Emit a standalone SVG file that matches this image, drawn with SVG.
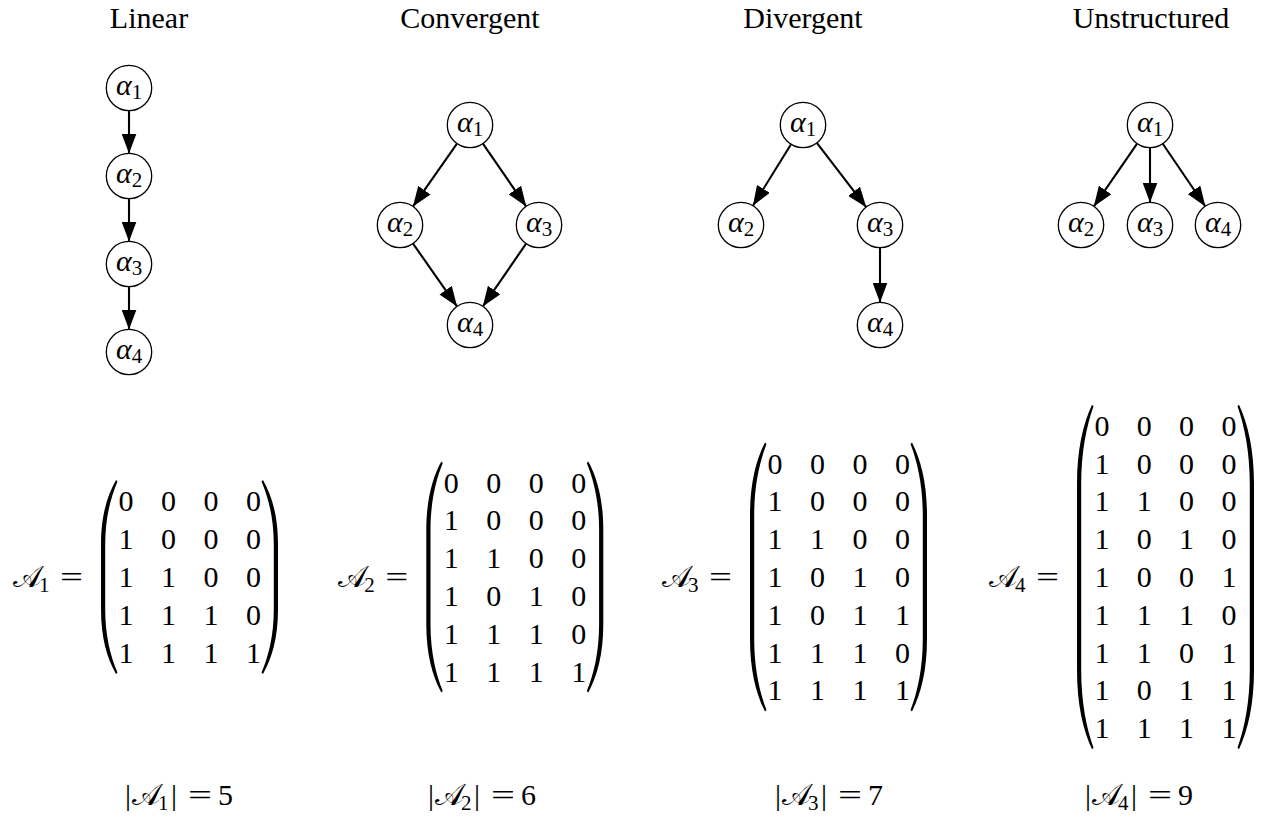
<svg xmlns="http://www.w3.org/2000/svg" width="1264" height="816" viewBox="0 0 1264 816">
<style>
.t{font-family:"Liberation Serif","DejaVu Serif",serif;font-size:30px;fill:#000}
.cal{font-family:"Liberation Serif","DejaVu Serif","DejaVu Sans","Noto Sans",serif;font-style:normal}
.sub{font-size:21px}
.node circle{fill:#fff;stroke:#000;stroke-width:1.3}
.edge line{stroke:#000;stroke-width:2.1;marker-end:url(#ah)}
.m text{text-anchor:middle}
.m text.lab{text-anchor:start}
.sz text{text-anchor:start}
.par{fill:#000}
</style>
<defs>
<marker id="ah" markerUnits="userSpaceOnUse" markerWidth="20" markerHeight="15" refX="19.5" refY="7.5" orient="auto" viewBox="0 0 20 15">
<path d="M0,0 L20,7.5 L0,15 Z" fill="#000"/>
</marker>
</defs>
<rect width="1264" height="816" fill="#fff"/>

<g id="titles" class="t" text-anchor="middle">
<text x="149" y="28">Linear</text>
<text x="470" y="28">Convergent</text>
<text x="803" y="28">Divergent</text>
<text x="1151" y="28">Unstructured</text>
</g>

<g id="connectors" class="edge">
<line x1="129" y1="111" x2="129" y2="153"/>
<line x1="129" y1="199" x2="129" y2="241"/>
<line x1="129" y1="287" x2="129" y2="329"/>
<line x1="456.81" y1="143.84" x2="413.19" y2="206.16"/>
<line x1="483.06" y1="143.93" x2="525.94" y2="206.07"/>
<line x1="413.19" y1="243.84" x2="456.81" y2="306.16"/>
<line x1="525.94" y1="243.93" x2="483.06" y2="306.07"/>
<line x1="790.88" y1="144.55" x2="753.12" y2="205.45"/>
<line x1="817.03" y1="143.22" x2="865.97" y2="206.78"/>
<line x1="880" y1="248" x2="880" y2="302"/>
<line x1="1136.94" y1="143.93" x2="1094.06" y2="206.07"/>
<line x1="1150" y1="148" x2="1150" y2="202"/>
<line x1="1162.93" y1="144.02" x2="1205.07" y2="205.98"/>
</g>

<g id="lin1" class="node"><circle cx="129" cy="88" r="22.7"/><text class="t" x="129" y="95" text-anchor="middle"><tspan font-style="italic">α</tspan><tspan class="sub" dy="4">1</tspan></text></g>
<g id="lin2" class="node"><circle cx="129" cy="176" r="22.7"/><text class="t" x="129" y="183" text-anchor="middle"><tspan font-style="italic">α</tspan><tspan class="sub" dy="4">2</tspan></text></g>
<g id="lin3" class="node"><circle cx="129" cy="264" r="22.7"/><text class="t" x="129" y="271" text-anchor="middle"><tspan font-style="italic">α</tspan><tspan class="sub" dy="4">3</tspan></text></g>
<g id="lin4" class="node"><circle cx="129" cy="352" r="22.7"/><text class="t" x="129" y="359" text-anchor="middle"><tspan font-style="italic">α</tspan><tspan class="sub" dy="4">4</tspan></text></g>

<g id="con1" class="node"><circle cx="470" cy="125" r="22.7"/><text class="t" x="470" y="132" text-anchor="middle"><tspan font-style="italic">α</tspan><tspan class="sub" dy="4">1</tspan></text></g>
<g id="con2" class="node"><circle cx="400" cy="225" r="22.7"/><text class="t" x="400" y="232" text-anchor="middle"><tspan font-style="italic">α</tspan><tspan class="sub" dy="4">2</tspan></text></g>
<g id="con3" class="node"><circle cx="539" cy="225" r="22.7"/><text class="t" x="539" y="232" text-anchor="middle"><tspan font-style="italic">α</tspan><tspan class="sub" dy="4">3</tspan></text></g>
<g id="con4" class="node"><circle cx="470" cy="325" r="22.7"/><text class="t" x="470" y="332" text-anchor="middle"><tspan font-style="italic">α</tspan><tspan class="sub" dy="4">4</tspan></text></g>

<g id="div1" class="node"><circle cx="803" cy="125" r="22.7"/><text class="t" x="803" y="132" text-anchor="middle"><tspan font-style="italic">α</tspan><tspan class="sub" dy="4">1</tspan></text></g>
<g id="div2" class="node"><circle cx="741" cy="225" r="22.7"/><text class="t" x="741" y="232" text-anchor="middle"><tspan font-style="italic">α</tspan><tspan class="sub" dy="4">2</tspan></text></g>
<g id="div3" class="node"><circle cx="880" cy="225" r="22.7"/><text class="t" x="880" y="232" text-anchor="middle"><tspan font-style="italic">α</tspan><tspan class="sub" dy="4">3</tspan></text></g>
<g id="div4" class="node"><circle cx="880" cy="325" r="22.7"/><text class="t" x="880" y="332" text-anchor="middle"><tspan font-style="italic">α</tspan><tspan class="sub" dy="4">4</tspan></text></g>

<g id="uns1" class="node"><circle cx="1150" cy="125" r="22.7"/><text class="t" x="1150" y="132" text-anchor="middle"><tspan font-style="italic">α</tspan><tspan class="sub" dy="4">1</tspan></text></g>
<g id="uns2" class="node"><circle cx="1081" cy="225" r="22.7"/><text class="t" x="1081" y="232" text-anchor="middle"><tspan font-style="italic">α</tspan><tspan class="sub" dy="4">2</tspan></text></g>
<g id="uns3" class="node"><circle cx="1150" cy="225" r="22.7"/><text class="t" x="1150" y="232" text-anchor="middle"><tspan font-style="italic">α</tspan><tspan class="sub" dy="4">3</tspan></text></g>
<g id="uns4" class="node"><circle cx="1218" cy="225" r="22.7"/><text class="t" x="1218" y="232" text-anchor="middle"><tspan font-style="italic">α</tspan><tspan class="sub" dy="4">4</tspan></text></g>

<!-- Matrix 1 -->
<g id="matrix1" class="t m">
<text class="lab" x="13" y="587"><tspan class="cal">𝒜</tspan><tspan class="sub" x="39" dy="5">1</tspan></text>
<text x="71.5" y="587" textLength="23" lengthAdjust="spacingAndGlyphs">=</text>
<path id="lp1" class="par" d="M116,480 C107,496 101,516 101,545 L101,609 C101,638 107,658 116,674 L117.5,672.5 C110.5,656 105.2,636 105.2,609 L105.2,545 C105.2,518 110.5,498 117.5,481.5 Z"/>
<use href="#lp1" transform="translate(379,0) scale(-1,1)"/>
<text x="126" y="511.4">0</text><text x="168.5" y="511.4">0</text><text x="211" y="511.4">0</text><text x="253.5" y="511.4">0</text>
<text x="126" y="549.2">1</text><text x="168.5" y="549.2">0</text><text x="211" y="549.2">0</text><text x="253.5" y="549.2">0</text>
<text x="126" y="587">1</text><text x="168.5" y="587">1</text><text x="211" y="587">0</text><text x="253.5" y="587">0</text>
<text x="126" y="624.8">1</text><text x="168.5" y="624.8">1</text><text x="211" y="624.8">1</text><text x="253.5" y="624.8">0</text>
<text x="126" y="662.6">1</text><text x="168.5" y="662.6">1</text><text x="211" y="662.6">1</text><text x="253.5" y="662.6">1</text>
</g>

<!-- Matrix 2 -->
<g id="matrix2" class="t m">
<text class="lab" x="338.3" y="587"><tspan class="cal">𝒜</tspan><tspan class="sub" x="364.3" dy="5">2</tspan></text>
<text x="396.8" y="587" textLength="23" lengthAdjust="spacingAndGlyphs">=</text>
<path id="lp2" class="par" d="M441.3,461.5 C432.3,478 426.3,500 426.3,530 L426.3,624 C426.3,654 432.3,676 441.3,692.5 L442.8,691 C435.8,674 430.5,652 430.5,624 L430.5,530 C430.5,502 435.8,480 442.8,463 Z"/>
<use href="#lp2" transform="translate(1029.6,0) scale(-1,1)"/>
<text x="451.3" y="492.5">0</text><text x="493.8" y="492.5">0</text><text x="536.3" y="492.5">0</text><text x="578.8" y="492.5">0</text>
<text x="451.3" y="530.3">1</text><text x="493.8" y="530.3">0</text><text x="536.3" y="530.3">0</text><text x="578.8" y="530.3">0</text>
<text x="451.3" y="568.1">1</text><text x="493.8" y="568.1">1</text><text x="536.3" y="568.1">0</text><text x="578.8" y="568.1">0</text>
<text x="451.3" y="605.9">1</text><text x="493.8" y="605.9">0</text><text x="536.3" y="605.9">1</text><text x="578.8" y="605.9">0</text>
<text x="451.3" y="643.7">1</text><text x="493.8" y="643.7">1</text><text x="536.3" y="643.7">1</text><text x="578.8" y="643.7">0</text>
<text x="451.3" y="681.5">1</text><text x="493.8" y="681.5">1</text><text x="536.3" y="681.5">1</text><text x="578.8" y="681.5">1</text>
</g>

<!-- Matrix 3 -->
<g id="matrix3" class="t m">
<text class="lab" x="662" y="587"><tspan class="cal">𝒜</tspan><tspan class="sub" x="688" dy="5">3</tspan></text>
<text x="720.5" y="587" textLength="23" lengthAdjust="spacingAndGlyphs">=</text>
<path id="lp3" class="par" d="M765,442.6 C756,460 750,484 750,515 L750,639 C750,670 756,694 765,711.4 L766.5,710 C759.5,692 754.2,668 754.2,639 L754.2,515 C754.2,486 759.5,462 766.5,444 Z"/>
<use href="#lp3" transform="translate(1677,0) scale(-1,1)"/>
<text x="775" y="473.6">0</text><text x="817.5" y="473.6">0</text><text x="860" y="473.6">0</text><text x="902.5" y="473.6">0</text>
<text x="775" y="511.4">1</text><text x="817.5" y="511.4">0</text><text x="860" y="511.4">0</text><text x="902.5" y="511.4">0</text>
<text x="775" y="549.2">1</text><text x="817.5" y="549.2">1</text><text x="860" y="549.2">0</text><text x="902.5" y="549.2">0</text>
<text x="775" y="587">1</text><text x="817.5" y="587">0</text><text x="860" y="587">1</text><text x="902.5" y="587">0</text>
<text x="775" y="624.8">1</text><text x="817.5" y="624.8">0</text><text x="860" y="624.8">1</text><text x="902.5" y="624.8">1</text>
<text x="775" y="662.6">1</text><text x="817.5" y="662.6">1</text><text x="860" y="662.6">1</text><text x="902.5" y="662.6">0</text>
<text x="775" y="700.4">1</text><text x="817.5" y="700.4">1</text><text x="860" y="700.4">1</text><text x="902.5" y="700.4">1</text>
</g>

<!-- Matrix 4 -->
<g id="matrix4" class="t m">
<text class="lab" x="989" y="587"><tspan class="cal">𝒜</tspan><tspan class="sub" x="1015" dy="5">4</tspan></text>
<text x="1047.5" y="587" textLength="23" lengthAdjust="spacingAndGlyphs">=</text>
<path id="lp4" class="par" d="M1092,404.8 C1083,424 1077,450 1077,484 L1077,670 C1077,704 1083,730 1092,749.2 L1093.5,747.8 C1086.5,728 1081.2,702 1081.2,670 L1081.2,484 C1081.2,452 1086.5,426 1093.5,406.2 Z"/>
<use href="#lp4" transform="translate(2331,0) scale(-1,1)"/>
<text x="1102" y="435.8">0</text><text x="1144.3" y="435.8">0</text><text x="1186.6" y="435.8">0</text><text x="1229" y="435.8">0</text>
<text x="1102" y="473.6">1</text><text x="1144.3" y="473.6">0</text><text x="1186.6" y="473.6">0</text><text x="1229" y="473.6">0</text>
<text x="1102" y="511.4">1</text><text x="1144.3" y="511.4">1</text><text x="1186.6" y="511.4">0</text><text x="1229" y="511.4">0</text>
<text x="1102" y="549.2">1</text><text x="1144.3" y="549.2">0</text><text x="1186.6" y="549.2">1</text><text x="1229" y="549.2">0</text>
<text x="1102" y="587">1</text><text x="1144.3" y="587">0</text><text x="1186.6" y="587">0</text><text x="1229" y="587">1</text>
<text x="1102" y="624.8">1</text><text x="1144.3" y="624.8">1</text><text x="1186.6" y="624.8">1</text><text x="1229" y="624.8">0</text>
<text x="1102" y="662.6">1</text><text x="1144.3" y="662.6">1</text><text x="1186.6" y="662.6">0</text><text x="1229" y="662.6">1</text>
<text x="1102" y="700.4">1</text><text x="1144.3" y="700.4">0</text><text x="1186.6" y="700.4">1</text><text x="1229" y="700.4">1</text>
<text x="1102" y="738.2">1</text><text x="1144.3" y="738.2">1</text><text x="1186.6" y="738.2">1</text><text x="1229" y="738.2">1</text>
</g>

<g id="sizes" class="t sz">
<text x="125" y="805">|<tspan class="cal" x="132">𝒜</tspan><tspan class="sub" x="158" dy="5">1</tspan><tspan x="171" dy="-5">|</tspan><tspan x="188" textLength="24" lengthAdjust="spacingAndGlyphs">=</tspan><tspan x="218">5</tspan></text>
<text x="428" y="805">|<tspan class="cal" x="435">𝒜</tspan><tspan class="sub" x="461" dy="5">2</tspan><tspan x="474" dy="-5">|</tspan><tspan x="491" textLength="24" lengthAdjust="spacingAndGlyphs">=</tspan><tspan x="521">6</tspan></text>
<text x="775" y="805">|<tspan class="cal" x="782">𝒜</tspan><tspan class="sub" x="808" dy="5">3</tspan><tspan x="821" dy="-5">|</tspan><tspan x="838" textLength="24" lengthAdjust="spacingAndGlyphs">=</tspan><tspan x="868">7</tspan></text>
<text x="1085" y="805">|<tspan class="cal" x="1092">𝒜</tspan><tspan class="sub" x="1118" dy="5">4</tspan><tspan x="1131" dy="-5">|</tspan><tspan x="1148" textLength="24" lengthAdjust="spacingAndGlyphs">=</tspan><tspan x="1178">9</tspan></text>
</g>
</svg>
